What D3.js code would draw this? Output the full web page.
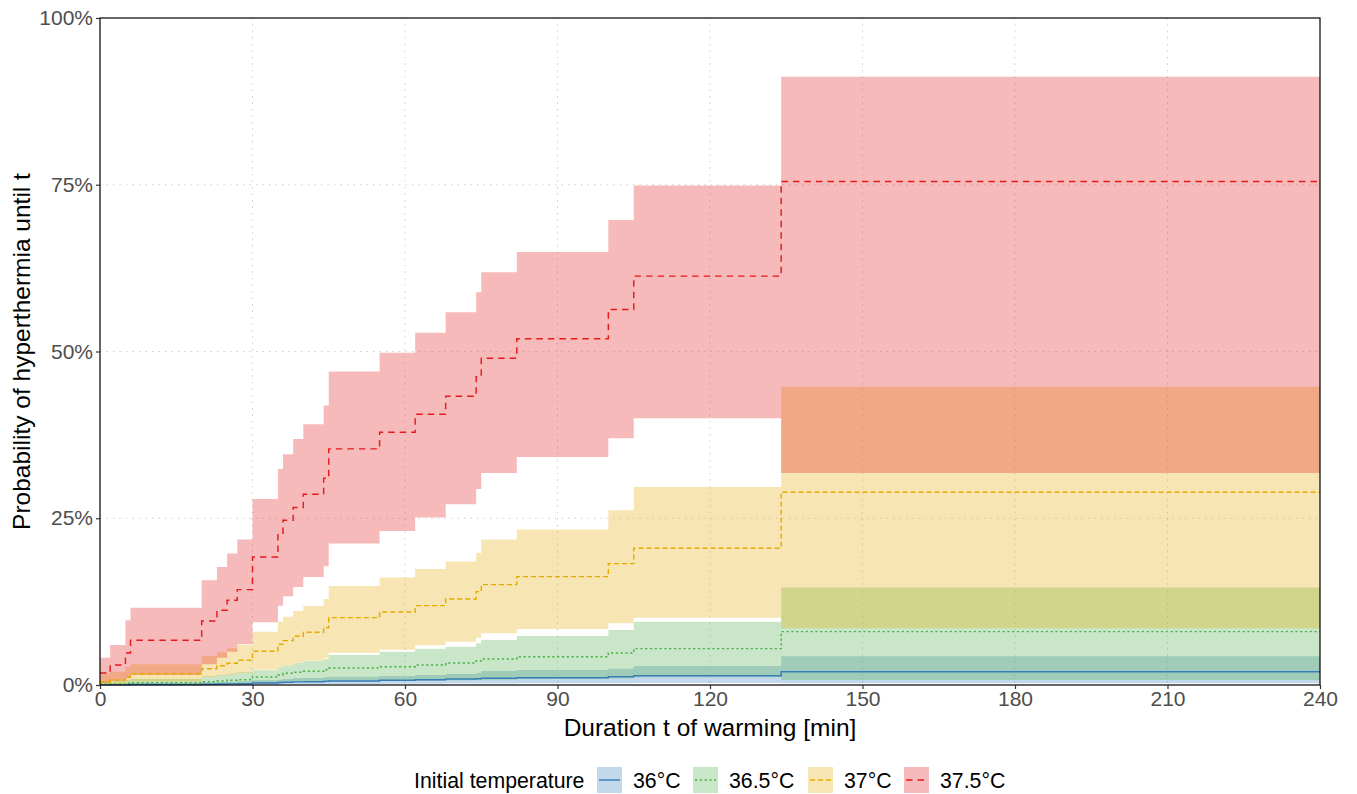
<!DOCTYPE html>
<html>
<head>
<meta charset="utf-8">
<script src="https://cdn.jsdelivr.net/npm/d3@7"></script>
<style>
  html, body { margin: 0; padding: 0; background: #fff; }
  svg { display: block; font-family: "Liberation Sans", Arial, sans-serif; }
</style>
</head>
<body>
<svg id="chart" width="1357" height="794"></svg>
<script>
// Event times (min) shared by all curves; the last step runs to the end of follow-up
const times = [0, 2, 5, 6, 20, 23, 25, 27, 30, 35, 36, 38, 40, 44, 45, 55, 62, 68, 74, 75, 82, 100, 105, 134];
const tEnd = 240;

// Probability of hyperthermia (%) with confidence band, by initial temperature
const est36  = [0.02, 0.03, 0.05, 0.07, 0.12, 0.15, 0.17, 0.2, 0.3, 0.37, 0.42, 0.47, 0.5, 0.55, 0.6, 0.7, 0.8, 0.9, 0.95, 1.0, 1.1, 1.25, 1.4, 2.0];
const lo36   = [0, 0, 0, 0.01, 0.02, 0.03, 0.04, 0.05, 0.07, 0.09, 0.1, 0.11, 0.12, 0.13, 0.15, 0.17, 0.19, 0.21, 0.22, 0.24, 0.26, 0.28, 0.3, 0.25];
const hi36   = [0.1, 0.15, 0.2, 0.25, 0.4, 0.45, 0.5, 0.55, 0.7, 0.8, 0.9, 1.0, 1.05, 1.15, 1.25, 1.35, 1.5, 1.65, 1.8, 2.1, 2.25, 2.45, 2.85, 4.3];

const est365 = [0.1, 0.15, 0.25, 0.35, 0.5, 0.6, 0.7, 0.8, 1.2, 1.5, 1.75, 1.9, 2.05, 2.3, 2.55, 2.75, 3.0, 3.3, 3.6, 3.9, 4.25, 4.8, 5.45, 8.0];
const lo365  = [0, 0.01, 0.02, 0.03, 0.08, 0.1, 0.12, 0.15, 0.25, 0.3, 0.35, 0.4, 0.45, 0.5, 0.55, 0.6, 0.65, 0.7, 0.75, 0.8, 0.9, 1.0, 1.15, 0.75];
const hi365  = [0.5, 0.6, 0.8, 0.95, 1.3, 1.5, 1.7, 1.9, 2.2, 2.65, 2.9, 3.3, 3.6, 3.9, 4.5, 5.0, 5.45, 5.75, 6.25, 6.75, 7.35, 8.25, 9.5, 14.6];

const est37  = [0.5, 0.75, 1.2, 1.7, 2.45, 2.9, 3.25, 3.7, 5.05, 6.1, 6.65, 7.3, 7.9, 8.6, 10.1, 10.95, 11.9, 12.9, 14.0, 15.05, 16.25, 18.2, 20.5, 28.9];
const lo37   = [0.05, 0.1, 0.3, 0.5, 1.2, 1.4, 1.6, 1.8, 2.3, 2.65, 2.9, 3.35, 3.65, 4.0, 4.85, 5.3, 5.95, 6.5, 7.1, 7.75, 8.4, 9.25, 10.1, 8.5];
const hi37   = [1.6, 2.0, 2.7, 3.1, 4.35, 4.9, 5.5, 6.0, 8.0, 9.5, 10.25, 11.1, 11.85, 12.9, 14.85, 16.1, 17.4, 18.5, 19.8, 21.8, 23.3, 26.2, 29.7, 44.7];

const est375 = [1.8, 3.0, 4.8, 6.7, 9.6, 11.2, 12.7, 14.3, 19.2, 22.8, 24.7, 26.6, 28.6, 31.0, 35.4, 37.9, 40.6, 43.3, 46.2, 49.0, 51.9, 56.3, 61.3, 75.5];
const lo375  = [0.3, 0.6, 1.0, 1.5, 3.1, 4.1, 5.0, 6.1, 9.4, 11.9, 13.3, 14.7, 16.2, 17.8, 21.2, 23.1, 25.1, 27.1, 29.4, 31.8, 34.2, 37.0, 40.0, 31.8];
const hi375  = [4.1, 6.0, 9.7, 11.6, 15.7, 17.7, 19.7, 21.8, 27.9, 32.4, 34.6, 36.9, 39.1, 41.9, 47.0, 49.8, 52.8, 55.9, 58.9, 61.9, 64.9, 69.7, 74.9, 91.2];

const groupLabels = ["36°C", "36.5°C", "37°C", "37.5°C"];
const groupColors = ["#377EB8", "#4DAF4A", "#E6AB02", "#E41A1C"];
const groupDash   = [null, "2.2,2.6", "5,3", "6.5,5"];

const xTicks = [0, 30, 60, 90, 120, 150, 180, 210, 240];
const yTicks = [0, 0.25, 0.5, 0.75, 1];

const series = [
  { est: est36,  lo: lo36,  hi: hi36 },
  { est: est365, lo: lo365, hi: hi365 },
  { est: est37,  lo: lo37,  hi: hi37 },
  { est: est375, lo: lo375, hi: hi375 }
].map((s, i) => {
  const rows = times.map((t, j) => ({ t, est: s.est[j] / 100, lo: s.lo[j] / 100, hi: s.hi[j] / 100 }));
  const last = rows[rows.length - 1];
  rows.push({ t: tEnd, est: last.est, lo: last.lo, hi: last.hi });
  return { label: groupLabels[i], color: groupColors[i], dash: groupDash[i], rows };
});

const svg = d3.select("#chart");
const panel = { left: 100, right: 1320, top: 18, bottom: 685 };

const x = d3.scaleLinear().domain([0, 240]).range([panel.left, panel.right]);
const y = d3.scaleLinear().domain([0, 1]).range([panel.bottom, panel.top]);

// dotted grid
const grid = svg.append("g");
grid.selectAll("line.gx").data(xTicks.slice(1, -1)).join("line")
  .attr("x1", d => x(d)).attr("x2", d => x(d)).attr("y1", panel.top).attr("y2", panel.bottom)
  .attr("stroke", "#c9c9c9").attr("stroke-width", 1).attr("stroke-dasharray", "1.3,5.2");
grid.selectAll("line.gy").data(yTicks.slice(1, -1)).join("line")
  .attr("y1", d => y(d)).attr("y2", d => y(d)).attr("x1", panel.left).attr("x2", panel.right)
  .attr("stroke", "#c9c9c9").attr("stroke-width", 1).attr("stroke-dasharray", "1.3,5.2");

// confidence bands
const band = d3.area().curve(d3.curveStepAfter)
  .x(d => x(d.t)).y0(d => y(d.lo)).y1(d => y(d.hi));
svg.append("g").selectAll("path").data(series).join("path")
  .attr("d", d => band(d.rows))
  .attr("fill", d => d.color).attr("fill-opacity", 0.3).attr("stroke", "none");

// step curves
const step = d3.line().curve(d3.curveStepAfter).x(d => x(d.t)).y(d => y(d.est));
svg.append("g").selectAll("path").data(series).join("path")
  .attr("d", d => step(d.rows))
  .attr("fill", "none").attr("stroke", d => d.color).attr("stroke-width", 1.45)
  .attr("stroke-dasharray", d => d.dash);

// panel frame
svg.append("rect").attr("x", panel.left).attr("y", panel.top)
  .attr("width", panel.right - panel.left).attr("height", panel.bottom - panel.top)
  .attr("fill", "none").attr("stroke", "#000").attr("stroke-width", 1.2);

// axes
const xAxis = svg.append("g").attr("transform", `translate(0,${panel.bottom})`)
  .call(d3.axisBottom(x).tickValues(xTicks).tickSize(4).tickPadding(2).tickFormat(d3.format("d")));
const yAxis = svg.append("g").attr("transform", `translate(${panel.left},0)`)
  .call(d3.axisLeft(y).tickValues(yTicks).tickSize(4).tickPadding(3).tickFormat(d3.format(".0%")));
[xAxis, yAxis].forEach(a => {
  a.select(".domain").remove();
  a.selectAll(".tick line").attr("stroke", "#333").attr("stroke-width", 1.2);
  a.selectAll(".tick text").attr("fill", "#4d4d4d").style("font-size", "21px")
    .style("font-family", "'Liberation Sans', Arial, sans-serif");
});

// axis titles
svg.append("text").attr("x", (panel.left + panel.right) / 2).attr("y", 736).attr("text-anchor", "middle")
  .style("font-size", "24.5px").attr("fill", "#000").text("Duration t of warming [min]");
svg.append("text").attr("transform", `translate(30,${(panel.top + panel.bottom) / 2}) rotate(-90)`)
  .attr("text-anchor", "middle").style("font-size", "24.5px").attr("fill", "#000")
  .text("Probability of hyperthermia until t");

// legend
const lg = svg.append("g");
lg.append("text").attr("x", 414).attr("y", 788).style("font-size", "21.3px").attr("fill", "#000")
  .text("Initial temperature");
const keyX = [597, 693, 808, 904];
series.forEach((s, i) => {
  const g = lg.append("g").attr("transform", `translate(${keyX[i]},767)`);
  g.append("rect").attr("width", 25).attr("height", 26).attr("fill", s.color).attr("fill-opacity", 0.3);
  g.append("line").attr("x1", 2).attr("x2", 23).attr("y1", 13).attr("y2", 13)
    .attr("stroke", s.color).attr("stroke-width", 1.45).attr("stroke-dasharray", s.dash);
  g.append("text").attr("x", 36).attr("y", 21).style("font-size", "21.3px").attr("fill", "#000").text(s.label);
});
</script>
</body>
</html>
